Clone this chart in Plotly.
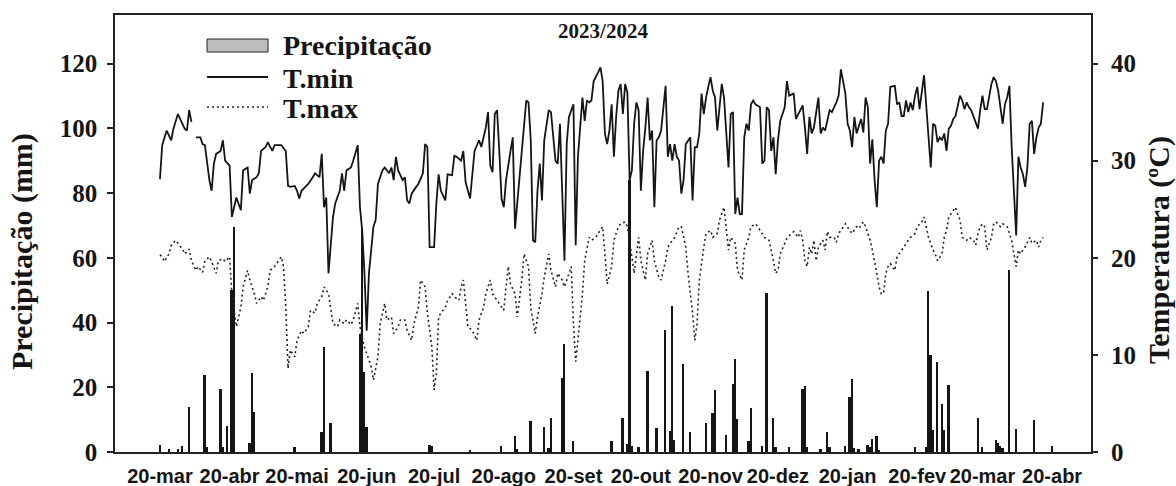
import pandas as pd
import plotly.graph_objects as go

start = pd.Timestamp("2023-03-20")

# ---- data (day offset from 20-mar-2023) ----
tmin_day = [0, 1, 3, 5, 6, 8, 11, 12, 13, 14, 15, 16, 18, 19, 20, 22, 23, 24, 25, 27, 28, 29, 31, 32, 33, 34, 36, 37, 39, 40,
            41, 43, 44, 45, 47, 48, 50, 51, 53, 54, 56, 57, 58, 60, 61, 62, 63, 65, 66, 68, 69, 71, 72, 73, 74, 75, 77, 78, 80, 81,
            82, 83, 85, 86, 88, 89, 90, 91, 92, 93, 95, 96, 97, 99, 100, 102, 103, 104, 105, 106, 108, 109, 110, 111, 112, 114, 115, 117, 118, 119,
            120, 122, 123, 124, 125, 127, 128, 130, 131, 132, 134, 135, 136, 138, 139, 140, 142, 143, 145, 146, 147, 148, 149, 150, 151, 152, 153, 154, 156, 157,
            158, 160, 161, 163, 164, 165, 166, 167, 168, 169, 170, 171, 173, 174, 176, 177, 178, 180, 181, 182, 184, 185, 186, 187, 188, 189, 190, 191, 192, 193,
            194, 195, 196, 197, 198, 199, 200, 201, 202, 203, 204, 205, 206, 207, 208, 209, 210, 211, 212, 213, 214, 215, 216, 217, 218, 219, 220, 221, 222, 223,
            225, 226, 227, 228, 229, 230, 231, 232, 233, 234, 236, 237, 238, 239, 240, 241, 242, 243, 244, 245, 246, 247, 248, 249, 250, 251, 252, 253, 254, 255,
            256, 257, 258, 259, 260, 261, 262, 263, 264, 265, 267, 268, 269, 270, 271, 272, 273, 274, 275, 276, 278, 279, 280, 282, 283, 284, 286, 287, 288, 289,
            290, 291, 293, 294, 295, 296, 298, 299, 301, 302, 303, 305, 306, 307, 308, 309, 310, 312, 313, 314, 315, 316, 317, 318, 319, 320, 321, 322, 323, 324,
            325, 327, 328, 329, 330, 331, 332, 333, 334, 335, 336, 337, 338, 340, 341, 342, 343, 344, 345, 346, 347, 348, 349, 350, 351, 352, 353, 354, 356, 357,
            358, 359, 360, 361, 363, 364, 365, 366, 367, 368, 370, 371, 372, 373, 375, 376, 377, 378, 379, 380, 381, 382, 383, 384, 385, 386, 387, 388, 389, 390,
            391, 392, 393]
tmin = [28.1, 31.6, 33.1, 32.1, 33.3, 34.8, 33.3, 33.1, 35.2, 34.0, None, 32.4, 32.4, 31.7, 31.6, 28.0, 26.9, 29.7, 30.7, 31.0, 32.1, 30.0, 29.5, 24.2, 25.2, 26.2, 24.9, 29.0, 29.3, 26.6,
        28.0, 28.3, 28.7, 31.0, 31.4, 31.9, 31.0, 31.6, 31.6, 31.6, 31.0, 27.4, 27.3, 27.4, 26.9, 26.1, 26.9, 27.3, 27.6, 28.3, 28.7, 28.3, 30.7, 25.2, 26.2, 18.4, 24.2, 25.6, 26.9, 28.7,
        26.9, 29.0, 29.3, 30.0, 31.6, 25.2, 22.8, 18.4, 12.5, 18.4, 23.2, 23.9, 27.6, 29.0, 29.3, 28.7, 29.3, 28.0, 30.4, 29.0, 28.0, 28.3, 25.9, 25.6, 26.6, 27.3, 27.6, 28.7, 31.7, 31.4,
        21.1, 21.1, 25.6, 28.6, 26.9, 25.9, 28.6, 28.5, 30.5, 30.4, 30.0, 31.0, 27.8, 26.1, 28.6, 31.0, 32.1, 31.4, 33.4, 35.0, 29.5, 28.8, 34.8, 35.2, 31.0, 26.1, 25.2, 28.0, 31.0, 32.4,
        23.0, 28.6, 31.4, 36.2, 36.0, 32.1, 21.8, 21.6, 26.9, 29.7, 25.9, 32.1, 35.2, 35.0, 30.0, 29.7, 33.8, 19.7, 31.7, 34.5, 35.8, 21.3, 30.4, 33.1, 36.5, 34.1, 36.2, 36.0, 36.2, 38.2,
        38.6, 39.1, 39.6, 38.2, 32.8, 31.7, 33.1, 35.8, 30.4, 34.5, 37.2, 37.9, 34.8, 37.9, 37.0, 28.0, 29.0, 33.8, 36.0, 35.2, 26.9, 31.0, 33.4, 36.5, 32.1, 33.1, 25.2, 32.1, 32.4, 33.1,
        37.7, 30.4, 31.7, 30.0, 31.7, 30.4, 30.0, 26.6, 28.0, 31.7, 32.4, 25.9, 31.4, 31.4, 32.8, 36.9, 34.8, 36.5, 37.6, 38.6, 37.2, 36.5, 33.1, 35.5, 37.9, 36.5, 32.4, 29.3, 34.8, 35.0,
        24.5, 26.2, 24.5, 24.5, 32.4, 33.8, 33.1, 35.8, 36.2, 35.8, 35.5, 29.7, 30.0, 35.5, 35.2, 31.0, 32.4, 28.6, 32.1, 34.1, 35.5, 38.2, 36.7, 36.9, 34.3, 34.8, 35.7, 33.4, 30.7, 34.5,
        32.8, 33.4, 36.5, 32.8, 33.4, 33.1, 35.2, 35.0, 36.0, 36.7, 39.4, 36.9, 33.8, 33.1, 31.4, 34.5, 32.8, 34.3, 32.9, 36.5, 35.5, 29.7, 32.2, 28.0, 25.2, 30.0, 30.4, 29.7, 33.1, 33.8,
        37.6, 37.7, 35.8, 36.0, 34.6, 34.6, 36.2, 35.0, 36.0, 35.2, 36.7, 37.6, 35.3, 38.8, 35.5, 32.1, 29.3, 33.8, 33.6, 31.9, 32.4, 32.1, 32.8, 31.0, 33.3, 33.6, 34.3, 34.6, 36.7, 36.2,
        35.3, 36.0, 35.5, 35.2, 33.8, 33.3, 35.2, 36.7, 35.3, 35.3, 37.9, 38.6, 38.2, 37.2, 33.8, 35.8, 36.5, 37.7, 31.4, 26.6, 22.3, 30.4, 29.3, 28.6, 27.3, 29.3, 33.8, 34.1, 30.7, 32.4,
        33.4, 33.8, 36.0]

tmax_day = [0, 1, 2, 4, 5, 7, 8, 10, 11, 13, 14, 16, 17, 19, 20, 22, 23, 25, 26, 28, 29, 31, 32, 33, 34, 36, 37, 39, 40, 42,
            43, 45, 46, 48, 49, 51, 52, 54, 55, 56, 57, 58, 60, 61, 63, 64, 66, 67, 69, 70, 72, 73, 75, 76, 77, 79, 80, 82, 83, 85,
            86, 88, 89, 91, 92, 94, 95, 97, 98, 100, 101, 103, 104, 106, 107, 109, 110, 112, 113, 115, 116, 118, 119, 121, 122, 123,
            124, 125, 127, 128, 130, 131, 133, 134, 135, 136, 137, 139, 140, 141, 142, 144, 145, 147, 148, 150, 151, 153, 154, 155, 156, 158, 159, 161, 162, 164,
            165, 167, 168, 170, 171, 173, 174, 176, 177, 179, 180, 182, 183, 184, 185, 186, 188, 189, 191, 192, 194, 195, 197, 198, 199, 201, 202, 204, 205, 207,
            208, 210, 211, 213, 214, 216, 217, 219, 220, 222, 223, 225, 226, 228, 229, 231, 232, 234, 235, 237, 238, 239, 240, 242, 243, 245, 246, 248, 249, 251,
            252, 253, 254, 256, 257, 259, 260, 262, 263, 265, 266, 268, 269, 271,
            272, 273, 274, 275, 276, 278, 279, 281, 282, 284, 285, 286, 287, 288, 289, 290, 291, 292, 293, 295, 296, 297, 298, 300, 301, 302, 304, 305, 307, 308,
            310, 311, 313, 314, 316, 317, 319, 320, 321, 322, 323, 324, 325, 327, 328, 329, 330, 331, 333, 334, 336, 337, 339, 340, 341, 342, 344, 345, 346, 348,
            349, 350, 351, 352, 354, 355, 356, 357, 359, 360, 362, 363, 364, 365, 366, 367, 368, 370, 371, 372, 374, 375, 377, 378, 379, 380, 381, 382, 383, 384,
            385, 387, 388, 390, 391, 392, 393]
tmax = [20.3, 20.1, 19.6, 20.4, 21.3, 21.8, 21.5, 20.9, 20.4, 20.9, 19.7, 18.7, 19.1, 18.5, 19.7, 20.1, 19.6, 18.4, 19.7, 19.9, 19.6, 20.1, 16.3, 14.6, 12.9, 14.9, 17.0, 18.7, 17.7, 16.3,
        15.3, 16.0, 15.6, 17.0, 18.7, 19.1, 19.4, 20.1, 19.1, 14.9, 8.6, 10.5, 9.8, 11.5, 12.5, 12.2, 12.9, 14.6, 14.3, 15.3, 16.0, 17.0, 16.3, 14.6, 13.2, 12.9, 13.6, 13.2, 13.6, 13.1,
        13.6, 15.3, 12.9, 10.8, 10.1, 8.8, 7.4, 9.8, 13.2, 15.3, 13.6, 13.9, 12.2, 12.9, 13.6, 13.6, 12.5, 11.5, 13.2, 14.9, 17.7, 17.0, 14.3, 10.8, 6.4, 8.1,
        13.9, 14.3, 14.9, 15.6, 16.3, 16.0, 15.6, 17.0, 17.7, 15.3, 12.9, 12.5, 11.9, 11.5, 13.6, 14.9, 16.3, 17.7, 16.3, 15.6, 15.3, 14.6, 17.0, 19.1, 17.3, 16.3, 13.9, 17.7, 20.4, 19.1,
        14.9, 12.2, 13.9, 16.3, 18.0, 20.4, 18.7, 17.0, 18.4, 17.7, 17.0, 18.4, 19.1, 13.2, 9.3, 11.5, 16.3, 19.7, 22.1, 21.8, 22.1, 22.5, 23.2, 20.4, 17.3, 19.1, 21.8, 23.2, 23.5, 23.7,
        23.2, 20.1, 18.4, 22.1, 19.7, 17.7, 20.4, 21.8, 19.7, 18.0, 17.7, 19.7, 21.1, 21.8, 22.1, 23.2, 23.2, 21.1, 18.4, 14.3, 11.5, 13.2, 17.7, 21.1, 22.5, 22.8, 22.1, 22.5, 23.9, 25.2,
        23.2, 20.8, 22.1, 21.5, 18.7, 17.7, 20.8, 22.1, 23.2, 23.5, 23.2, 22.5, 22.1, 21.8,
        20.8, 19.7, 18.4, 18.7, 20.4, 21.5, 22.0, 22.5, 22.7, 22.1, 22.8, 21.8, 19.7, 19.1, 21.1, 20.4, 21.8, 19.7, 21.1, 21.8, 20.8, 22.7, 22.1, 22.1, 21.6, 22.5, 23.2, 23.5, 22.8, 22.5,
        23.2, 23.0, 23.7, 23.2, 21.8, 20.8, 18.4, 17.0, 16.3, 16.3, 18.4, 19.1, 19.4, 18.7, 20.1, 20.4, 20.8, 21.1, 21.8, 22.1, 22.5, 23.2, 23.7, 24.2, 23.2, 22.1, 20.8, 20.4, 19.7, 20.4,
        22.1, 22.8, 24.2, 24.5, 25.2, 24.5, 23.9, 22.1, 21.8, 22.1, 21.8, 21.3, 22.5, 23.2, 23.5, 23.2, 20.8, 22.1, 23.5, 23.7, 23.2, 23.5, 23.2, 22.5, 21.8, 20.4, 19.1, 20.8, 20.4, 20.8,
        21.1, 22.1, 21.5, 21.8, 21.1, 21.8, 22.1]

prec_day = [0, 4, 8, 10, 13, 20, 21, 27, 28, 30, 32, 33, 40, 41, 42, 60, 72, 73, 76, 89, 90, 91, 92, 120, 121, 138,
            152, 158, 159, 165, 171, 173, 174, 179, 180, 184, 201, 206, 208, 209, 210, 213, 217, 221, 225, 227, 228, 229, 233, 236,
            243, 246, 247, 252, 255, 256, 257, 262, 263, 268, 270, 273, 274, 280, 286, 287, 288, 294, 297, 298, 305, 307, 308, 309,
            311, 315, 316, 317, 319, 320, 336, 341, 342, 343, 344, 346, 348, 349, 351, 364, 366, 372, 373, 374, 375, 378, 381, 389, 397]
prec = [2.2, 0.8, 0.8, 1.9, 14.0, 23.8, 1.4, 19.4, 1.6, 8.1, 50.0, 69.5, 2.7, 24.3, 12.4, 1.4, 6.3, 32.5, 9.0, 36.6, 69.0, 24.8, 7.6, 2.2, 1.8, 0.4,
        1.9, 4.9, 0.8, 9.7, 7.8, 1.1, 10.6, 23.0, 33.5, 3.4, 3.4, 10.6, 2.4, 84.0, 1.9, 1.4, 25.0, 7.5, 37.6, 6.6, 45.0, 3.7, 27.3, 6.3,
        9.0, 12.1, 19.1, 5.4, 21.0, 28.6, 10.1, 3.4, 13.5, 1.9, 49.0, 10.6, 1.6, 1.4, 19.6, 20.4, 1.6, 0.8, 6.3, 1.6, 1.9, 17.1, 22.4, 1.1,
        1.0, 2.2, 1.6, 4.1, 5.0, 0.6, 1.4, 1.6, 49.8, 29.9, 6.8, 27.9, 14.8, 6.8, 20.7, 10.6, 1.4, 3.7, 2.9, 1.9, 1.1, 56.1, 7.2, 9.8, 1.9]

tick_dates = ["2023-03-20", "2023-04-20", "2023-05-20", "2023-06-20", "2023-07-20", "2023-08-20", "2023-09-20",
              "2023-10-20", "2023-11-20", "2023-12-20", "2024-01-20", "2024-02-20", "2024-03-20", "2024-04-20"]
tick_text = ["20-mar", "20-abr", "20-mai", "20-jun", "20-jul", "20-ago", "20-set",
             "20-out", "20-nov", "20-dez", "20-jan", "20-fev", "20-mar", "20-abr"]
prec_ticks = [0, 20, 40, 60, 80, 100, 120]
temp_ticks = [0, 10, 20, 30, 40]


def to_dates(days):
    return [start + pd.Timedelta(days=d) for d in days]


SERIF = "Liberation Serif, Times New Roman, serif"
SANS = "Liberation Sans, Arial, sans-serif"
INK = "#151515"

fig = go.Figure()
fig.add_trace(go.Bar(x=to_dates(prec_day), y=prec, yaxis="y",
                     width=0.8 * 86400000,
                     marker=dict(color=INK, line=dict(width=0)),
                     showlegend=False, name="Precipitação"))
fig.add_trace(go.Scatter(x=to_dates(tmin_day), y=tmin, yaxis="y2", mode="lines",
                         connectgaps=False,
                         line=dict(color=INK, width=1.8), showlegend=False, name="T.min"))
fig.add_trace(go.Scatter(x=to_dates(tmax_day), y=tmax, yaxis="y2", mode="lines",
                         line=dict(color="#222222", width=1.6, dash="2px,3px"),
                         showlegend=False, name="T.max"))

L, R, T, B = 115, 85, 15, 34
W, H = 1176, 486
pw, ph = W - L - R, H - T - B


def px(xp):
    return (xp - L) / pw


def py(yp):
    return (H - B - yp) / ph


shapes = [
    dict(type="rect", xref="paper", yref="paper", x0=px(207), x1=px(268), y0=py(52), y1=py(39),
         fillcolor="#bdbdbd", line=dict(color="#222222", width=1)),
    dict(type="line", xref="paper", yref="paper", x0=px(207), x1=px(268), y0=py(77), y1=py(77),
         line=dict(color=INK, width=1.8)),
    dict(type="line", xref="paper", yref="paper", x0=px(207), x1=px(268), y0=py(107), y1=py(107),
         line=dict(color="#222222", width=1.6, dash="2px,3px")),
]
annotations = []
for label, yy in [("Precipitação", 45), ("T.min", 78), ("T.max", 108)]:
    annotations.append(dict(text=label, xref="paper", yref="paper", x=px(281), y=py(yy),
                            xanchor="left", yanchor="middle", showarrow=False,
                            height=28, valign="middle",
                            font=dict(family=SERIF, size=28, color=INK, weight="bold")))
annotations.append(dict(text="Precipitação (mm)", xref="paper", yref="paper", x=px(22), y=py(252),
                        xanchor="center", yanchor="middle", textangle=-90, showarrow=False,
                        font=dict(family=SERIF, size=30, color=INK, weight="bold")))
annotations.append(dict(text="Temperatura (ºC)", xref="paper", yref="paper", x=px(1159), y=py(250),
                        xanchor="center", yanchor="middle", textangle=-90, showarrow=False,
                        font=dict(family=SERIF, size=30, color=INK, weight="bold")))

fig.update_layout(
    width=W, height=H,
    margin=dict(l=L, r=R, t=T, b=B, autoexpand=False),
    paper_bgcolor="white", plot_bgcolor="white",
    title=dict(text="2023/2024", x=0.5, xref="paper", xanchor="center",
               y=1 - 31 / H, yref="container", yanchor="middle", automargin=False,
               font=dict(family=SERIF, size=21, color=INK, weight="bold")),
    bargap=0,
    shapes=shapes, annotations=annotations,
    xaxis=dict(type="date", automargin=False,
               range=[start - pd.Timedelta(days=20.0), start + pd.Timedelta(days=414.3)],
               tickvals=tick_dates, ticktext=tick_text, ticks="",
               showgrid=False, zeroline=False, showline=True, mirror=True,
               linecolor="#222222", linewidth=1.5,
               tickfont=dict(family=SANS, size=20, color=INK, weight="bold"),
               ticklabelstandoff=5),
    yaxis=dict(range=[0, 135], tickvals=prec_ticks, ticks="outside", ticklen=6, tickwidth=1.5,
               automargin=False,
               tickcolor="#222222", showgrid=False, zeroline=False, showline=True, mirror=True,
               linecolor="#222222", linewidth=1.5,
               tickfont=dict(family=SERIF, size=25, color=INK, weight="bold"),
               ticklabelstandoff=5),
    yaxis2=dict(range=[0, 45], tickvals=temp_ticks, overlaying="y", side="right",
                automargin=False,
                ticks="outside", ticklen=6, tickwidth=1.5, tickcolor="#222222",
                showgrid=False, zeroline=False, showline=False,
                tickfont=dict(family=SERIF, size=25, color=INK, weight="bold"),
                ticklabelstandoff=8),
)

fig.write_html("out.html", config={"displayModeBar": False},
               post_script="document.body.style.margin='0';")
